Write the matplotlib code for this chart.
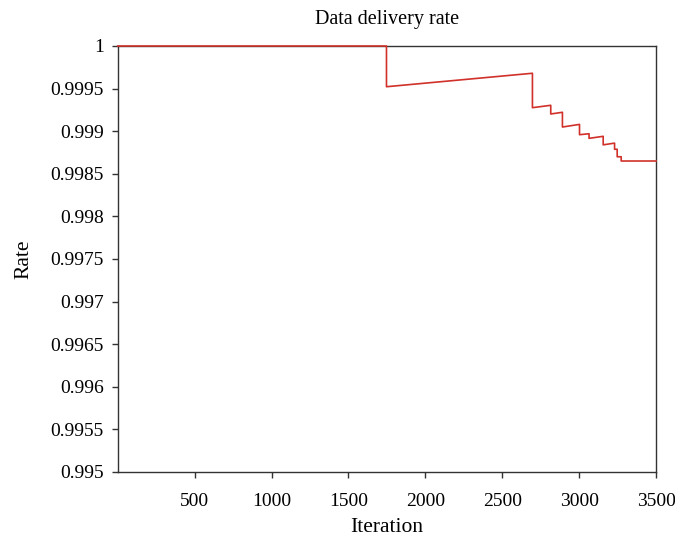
import matplotlib.pyplot as plt

# corner points of the curve
iteration = [0, 1747, 1747, 2696, 2696, 2815, 2815, 2891, 2891, 3002, 3002,
             3064, 3064, 3156, 3156, 3230, 3230, 3247, 3247, 3273, 3273, 3500]
rate = [1.0, 1.0, 0.999522, 0.99968, 0.999276, 0.999304, 0.999202, 0.999222,
        0.999049, 0.99908, 0.998959, 0.99897, 0.998916, 0.99894, 0.99884,
        0.99886, 0.998788, 0.998788, 0.9987, 0.9987, 0.99865, 0.99865]

x_ticks = [500, 1000, 1500, 2000, 2500, 3000, 3500]
y_ticks = [0.995, 0.9955, 0.996, 0.9965, 0.997, 0.9975, 0.998, 0.9985, 0.999, 0.9995, 1]
y_labels = ['0.995', '0.9955', '0.996', '0.9965', '0.997', '0.9975', '0.998',
            '0.9985', '0.999', '0.9995', '1']

plt.rcParams['font.family'] = 'Liberation Serif'

fig = plt.figure(figsize=(6.75, 5.38), dpi=100)
ax = fig.add_axes([0.1745, 0.1227, 0.7975, 0.7918])

ax.plot(iteration, rate, color='#d0312a', linewidth=1.2, clip_on=False, zorder=5)

ax.set_xlim(0, 3500)
ax.set_ylim(0.995, 1.0)
ax.set_xticks(x_ticks)
ax.set_yticks(y_ticks)
ax.set_yticklabels(y_labels)
ax.tick_params(direction='out', length=4, width=1, labelsize=14, color='#333333')
ax.tick_params(axis='y', pad=6)
ax.tick_params(axis='x', pad=11)

for s in ax.spines.values():
    s.set_color('#333333')
    s.set_linewidth(1.0)

ax.set_title('Data delivery rate', fontsize=14.5, pad=16)
ax.set_xlabel('Iteration', fontsize=15.5, labelpad=6)
ax.set_ylabel('Rate', fontsize=15.5, labelpad=12)

fig.savefig('out.png', dpi=100)
